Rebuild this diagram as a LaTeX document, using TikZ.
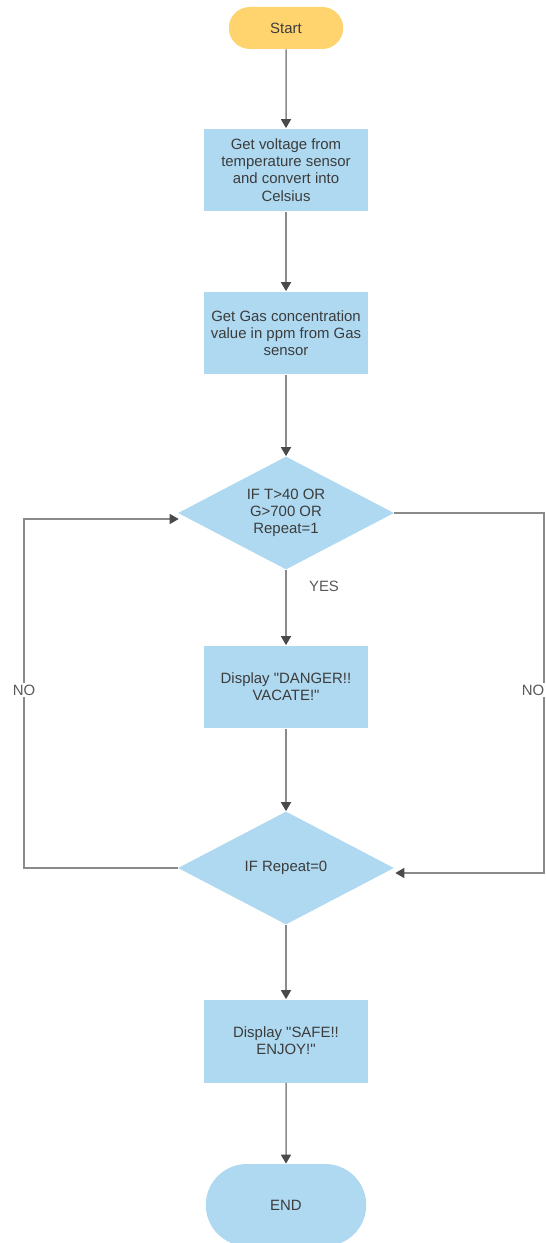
\documentclass[tikz,border=0pt]{standalone}
\usepackage{fontspec}
\setmainfont{Liberation Sans}
\usepackage{tikz}
\usetikzlibrary{arrows.meta, positioning, shapes.geometric, shapes.misc, calc}

\definecolor{boxblue}{HTML}{AED9F1}
\definecolor{startorange}{HTML}{FFD36E}
\definecolor{linegray}{HTML}{8A8A8A}
\definecolor{tipgray}{HTML}{4A4A4A}
\definecolor{textgray}{HTML}{3C3C3C}

\begin{document}
\begin{tikzpicture}[x=0.02cm, y=-0.02cm,
        font=\fontsize{8.5}{9.8}\selectfont, text=textgray,
        procbox/.style={fill=boxblue, minimum width=3.3cm, minimum height=1.66cm, inner sep=1pt, align=center},
        terminal/.style={rounded rectangle, minimum width=2.36cm, minimum height=0.84cm, inner sep=1pt},
        decision/.style={diamond, fill=boxblue, aspect=1.9, minimum width=4.32cm, minimum height=2.26cm, inner sep=0pt, align=center},
        flow/.style={draw=linegray, line width=0.85pt, -{Triangle[length=0.18cm, width=0.2cm, color=tipgray]}},
        lbl/.style={text=textgray!85, inner sep=1pt},
      ]
        \useasboundingbox (0,0) rectangle (546,1243);

        % Start and the two readings
        \node[terminal, fill=startorange] (start) at (286,28) {Start};
        \node[procbox] (gettemp) at (286,170) {Get voltage from\\temperature sensor\\and convert into\\Celsius};
        \node[procbox] (getgas) at (286,333) {Get Gas concentration\\value in ppm from Gas\\sensor};

        % Danger check
        \node[decision] (checkdanger) at (286,513) {IF T>40 OR\\G>700 OR\\Repeat=1};
        \node[procbox] (danger) at (286,687) {Display \textquotedbl DANGER!!\\VACATE!\textquotedbl};
        \node[decision] (checkrepeat) at (286,868) {IF Repeat=0};

        % Safe and end
        \node[procbox] (safe) at (286,1041) {Display \textquotedbl SAFE!!\\ENJOY!\textquotedbl};
        \node[terminal, fill=boxblue, minimum width=3.28cm, minimum height=1.64cm] (finish) at (286,1205) {END};

        % Loop corners
        \coordinate (loopbl) at (24,868);
        \coordinate (looptl) at (24,519);
        \coordinate (looptr) at (544,513);
        \coordinate (loopbr) at (544,873);

        % Main flow
        \draw[flow] (start) -- (gettemp);
        \draw[flow] (gettemp) -- (getgas);
        \draw[flow] (getgas) -- (checkdanger);
        \draw[flow] (checkdanger) -- (danger);
        \draw[flow] (danger) -- (checkrepeat);
        \draw[flow] (checkrepeat) -- (safe);
        \draw[flow] (safe) -- (finish);

        % NO branches
        \draw[flow] (checkrepeat.west) -- (loopbl) -- (looptl) -- ($(checkdanger.west)+(1,6)$);
        \draw[flow] (checkdanger.east) -- (looptr) -- (loopbr) -- ($(checkrepeat.east)+(1,5)$);

        % Labels
        \node[lbl] (yeslbl) at (324,586) {YES};
        \node[lbl, fill=white] (noleft) at (24,690) {NO};
        \node[lbl, fill=white] (noright) at (533,690) {NO};
      \end{tikzpicture}
\end{document}
